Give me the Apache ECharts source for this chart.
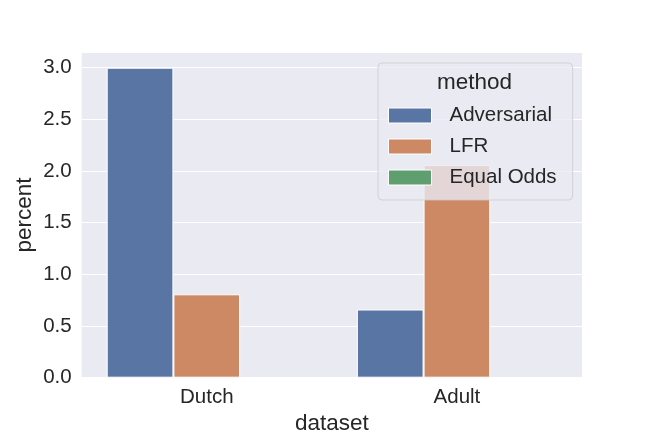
<!DOCTYPE html>
<html>
<head>
<meta charset="utf-8">
<script src="https://cdn.jsdelivr.net/npm/echarts@6/dist/echarts.min.js"></script>
<style>
  html, body { margin: 0; padding: 0; background: #fff; }
  #chart { width: 648px; height: 432px; }
</style>
</head>
<body>
<div id="chart"></div>
<script>
var datasets = ['Dutch', 'Adult'];
var methods = ['Adversarial', 'LFR', 'Equal Odds'];
var adversarial = [3.0, 0.66];
var lfr = [0.807, 2.058];
var equalOdds = [0, 0];
var colors = ['#5975a4', '#cc8963', '#5f9e6e'];

var font = '"Liberation Sans", Arial, sans-serif';
var ink = '#262626';

function bar(name, values, edge) {
	return {
		name: name,
		type: 'bar',
		data: values,
		barGap: '0%',
		barCategoryGap: '20%',
		itemStyle: { borderColor: '#ffffff', borderWidth: edge }
	};
}

var chart = echarts.init(document.getElementById('chart'), null, { renderer: 'canvas' });
var option = {
	animation: false,
	color: colors,
	backgroundColor: '#ffffff',
	textStyle: { fontFamily: font, color: ink },
	grid: {
		left: 81.7, right: 66, top: 52.2, bottom: 54.3,
		outerBoundsMode: 'none', containLabel: false,
		show: true, backgroundColor: '#eaeaf2', borderWidth: 0
	},
	xAxis: {
		type: 'category',
		data: datasets,
		name: 'dataset',
		nameLocation: 'middle',
		nameGap: 31,
		nameTextStyle: { fontSize: 22.5, color: ink, fontFamily: font },
		axisLine: { show: false },
		axisTick: { show: false },
		axisLabel: { fontSize: 20.5, color: ink, margin: 9, fontFamily: font },
		splitLine: { show: false }
	},
	yAxis: {
		type: 'value',
		min: 0,
		max: 3.15,
		interval: 0.5,
		name: 'percent',
		nameLocation: 'middle',
		nameGap: 45,
		nameMoveOverlap: false,
		nameTextStyle: { fontSize: 22.5, color: ink, fontFamily: font },
		axisLine: { show: false },
		axisTick: { show: false },
		axisLabel: {
			fontSize: 20.5, color: ink, margin: 10, fontFamily: font,
			formatter: function (v) { return v.toFixed(1); },
			showMaxLabel: false
		},
		splitLine: { lineStyle: { color: '#ffffff', width: 1 } }
	},
	legend: {
		data: methods,
		orient: 'vertical',
		left: 378,
		top: 63,
		padding: [42, 16, 12, 10],
		itemWidth: 43,
		itemHeight: 15,
		itemGap: 10,
		icon: 'rect',
		backgroundColor: 'rgba(234,234,242,0.8)',
		borderColor: 'rgba(204,204,204,0.8)',
		borderWidth: 1,
		borderRadius: 4,
		itemStyle: { borderColor: '#ffffff', borderWidth: 1 },
		textStyle: { fontSize: 20.5, color: ink, fontFamily: font, padding: [0, 0, 0, 13] }
	},
	graphic: [{
		type: 'text',
		left: 475 - 38,
		top: 71,
		z: 100,
		style: { text: 'method', fontSize: 22.5, fill: ink, fontFamily: font }
	}],
	series: [
		bar(methods[0], adversarial, 1),
		bar(methods[1], lfr, 1),
		bar(methods[2], equalOdds, 0)
	]
};
chart.setOption(option);
</script>
</body>
</html>
